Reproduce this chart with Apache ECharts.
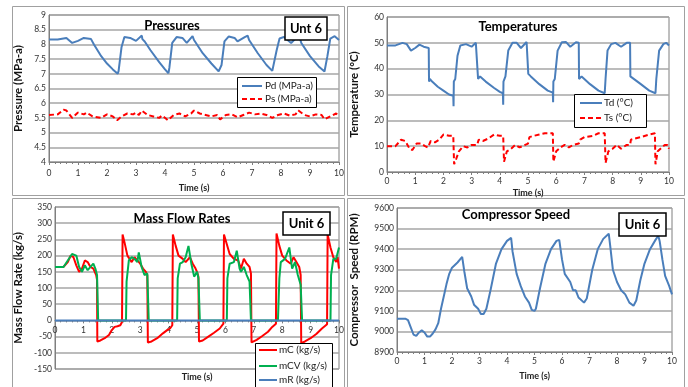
<!DOCTYPE html>
<html><head><meta charset="utf-8">
<script src="https://cdn.jsdelivr.net/npm/echarts@6/dist/echarts.min.js"></script>
<style>html,body{margin:0;padding:0;background:#fff}#c{width:688px;height:387px}</style>
</head><body><div id="c"></div>
<script>
// ---------- Data ----------
const xTicks = [0,1,2,3,4,5,6,7,8,9,10];

// Pressures
const pdTime = [0,0.3,0.6,0.8,1.0,1.2,1.45,1.48,1.55,1.8,2.0,2.2,2.37,2.4,2.5,2.6,2.8,3.0,3.2,3.22,3.3,3.5,3.8,4.0,4.12,4.15,4.25,4.4,4.6,4.75,4.95,5.0,5.3,5.6,5.85,5.9,5.95,6.05,6.2,6.4,6.5,6.75,6.85,6.9,7.2,7.5,7.7,7.75,7.85,7.95,8.1,8.35,8.55,8.65,8.7,9.0,9.3,9.5,9.55,9.6,9.7,9.85,10];
const pdVal  = [8.17,8.17,8.22,8.05,8.12,8.22,8.18,8.12,8.0,7.6,7.35,7.15,7.0,7.1,7.9,8.25,8.22,8.12,8.3,8.18,8.1,7.8,7.4,7.15,7.02,7.2,8.05,8.25,8.22,8.05,8.28,8.15,7.7,7.35,7.08,7.05,7.3,8.1,8.27,8.22,8.1,8.25,8.3,8.15,7.7,7.3,7.1,7.1,7.8,8.2,8.25,8.05,8.25,8.22,8.05,7.6,7.25,7.08,7.1,7.6,8.2,8.28,8.15];
const psTime = [0,0.3,0.5,0.6,0.8,1.0,1.2,1.3,1.5,1.8,2.0,2.2,2.35,2.5,2.7,2.9,3.0,3.1,3.2,3.4,3.6,3.8,3.9,4.1,4.3,4.5,4.7,4.9,5.0,5.2,5.4,5.6,5.8,5.9,6.1,6.3,6.5,6.7,6.9,7.1,7.3,7.5,7.7,7.9,8.1,8.3,8.5,8.6,8.8,9.0,9.2,9.4,9.5,9.7,9.9,10];
const psVal  = [5.6,5.62,5.78,5.75,5.5,5.68,5.62,5.68,5.55,5.5,5.62,5.55,5.42,5.55,5.65,5.62,5.68,5.6,5.75,5.6,5.55,5.5,5.58,5.42,5.6,5.65,5.55,5.65,5.75,5.65,5.6,5.55,5.6,5.45,5.6,5.62,5.52,5.6,5.68,5.62,5.65,5.6,5.5,5.6,5.65,5.58,5.62,5.75,5.6,5.55,5.62,5.6,5.45,5.55,5.65,5.55];

// Temperatures
const tdTime = [0,0.3,0.55,0.7,0.85,1.0,1.15,1.3,1.48,1.49,1.52,1.6,1.8,2.0,2.2,2.35,2.36,2.37,2.42,2.5,2.6,2.8,3.0,3.15,3.22,3.23,3.3,3.5,3.8,4.0,4.11,4.12,4.13,4.2,4.3,4.45,4.6,4.75,4.95,5.0,5.01,5.1,5.4,5.7,5.88,5.89,5.9,5.95,6.05,6.2,6.35,6.5,6.7,6.8,6.81,6.9,7.2,7.5,7.72,7.75,7.82,7.95,8.1,8.3,8.5,8.62,8.63,8.7,9.0,9.3,9.52,9.55,9.65,9.8,9.9,10];
const tdVal  = [49,49,50,49.5,47,48,49.3,48.5,48,35,36,35,33,31.5,30,29.5,25.5,35,36,45,49,49.5,48.5,50,50.2,36,37,35,32.5,31,30.5,26,35,37,47,50,50,48,50.3,50.3,38,37,34,31.5,30.7,27,35,36,47,50.2,50.3,48.5,50.2,50,36,37,34,31.5,30.5,36,47,49.5,50,48.5,50,50,37,37,34,31.5,30.5,36,47,49.5,50,49];
const tsTime = [0,0.3,0.5,0.65,0.8,0.9,1.05,1.2,1.35,1.45,1.55,1.7,1.85,2.0,2.2,2.35,2.38,2.45,2.55,2.7,2.85,3.0,3.2,3.25,3.4,3.6,3.8,4.0,4.12,4.15,4.25,4.4,4.55,4.7,4.9,5.0,5.05,5.2,5.4,5.6,5.88,5.9,6.0,6.15,6.3,6.45,6.6,6.8,6.85,7.0,7.3,7.5,7.72,7.75,7.85,8.0,8.15,8.3,8.5,8.62,8.65,8.8,9.0,9.3,9.5,9.52,9.6,9.75,9.85,9.95,10];
const tsVal  = [10,10,12.5,12,9,8.5,11,11,10,9.5,12,11.5,12.5,14.5,14,14,3,5,8,10,9.5,10.5,10.5,12.5,12,13,14.5,14,14,4,8,9,10.5,9.5,10.5,11,13.5,14,14.5,15,15,4,8,9.5,10.5,9.5,10.5,11,12.5,13.5,14,15,15,3.5,8,9,10.5,9,10.5,10.5,12.5,13,13.5,14.5,15,3,8,9.5,10.5,10.5,9];

// Mass flow rates
const mcTime = [0,0.3,0.45,0.55,0.65,0.75,0.85,0.95,1.05,1.15,1.25,1.35,1.45,1.48,1.49,1.6,1.75,1.9,2.0,2.1,2.2,2.3,2.36,2.38,2.45,2.55,2.6,2.7,2.8,2.9,3.0,3.1,3.2,3.25,3.27,3.4,3.6,3.8,3.95,4.05,4.13,4.15,4.25,4.35,4.5,4.6,4.75,4.85,4.95,5.0,5.05,5.07,5.2,5.4,5.6,5.8,5.93,5.95,6.05,6.15,6.3,6.45,6.55,6.65,6.75,6.85,6.9,6.92,7.1,7.3,7.5,7.65,7.78,7.8,7.9,8.0,8.15,8.3,8.4,8.5,8.6,8.65,8.67,8.8,9.0,9.2,9.4,9.58,9.6,9.7,9.8,9.9,9.95,10];
const mcVal  = [165,165,180,200,195,170,150,160,185,180,165,160,140,125,-65,-62,-55,-45,-30,-20,-18,-15,-5,265,240,200,205,180,195,185,175,160,150,140,-68,-65,-55,-40,-30,-25,-15,265,230,200,190,180,195,175,160,150,135,-65,-62,-50,-38,-25,-10,265,235,205,190,185,160,190,175,165,145,-68,-60,-48,-35,-20,-10,268,230,200,185,175,195,180,165,140,-70,-65,-55,-42,-25,-12,265,225,195,180,195,160];
const mcvTime = [0,0.3,0.45,0.6,0.75,0.85,0.95,1.05,1.15,1.25,1.35,1.42,1.48,1.5,1.52,2.5,2.52,2.6,2.7,2.8,2.9,2.95,3.05,3.15,3.25,3.3,3.32,3.35,4.3,4.32,4.4,4.5,4.6,4.7,4.8,4.9,5.0,5.05,5.1,6.05,6.07,6.15,6.3,6.4,6.5,6.55,6.65,6.75,6.85,6.9,7.85,7.9,7.95,8.1,8.25,8.35,8.45,8.55,8.65,8.7,9.7,9.72,9.8,9.9,10];
const mcvVal  = [165,165,185,205,200,165,150,170,155,165,175,160,140,145,0,0,120,185,195,190,180,210,165,140,145,0,-5,0,0,130,175,180,195,230,175,135,150,130,0,0,130,175,180,215,160,150,165,140,120,0,0,130,180,190,225,160,180,140,110,0,0,140,190,190,225];
const mrTime = [0,10];
const mrVal  = [0,0];

// Compressor speed
const spTime = [0,0.3,0.4,0.5,0.6,0.7,0.8,0.9,1.0,1.1,1.2,1.3,1.4,1.5,1.6,1.7,1.8,1.9,2.0,2.2,2.37,2.45,2.55,2.7,2.8,2.95,3.05,3.15,3.25,3.4,3.6,3.8,4.0,4.15,4.2,4.35,4.5,4.65,4.8,4.9,5.0,5.05,5.2,5.4,5.6,5.8,5.9,6.0,6.1,6.3,6.4,6.5,6.6,6.8,6.9,7.1,7.3,7.5,7.7,7.75,7.85,8.0,8.15,8.3,8.45,8.6,8.7,8.85,9.0,9.2,9.4,9.5,9.55,9.65,9.75,9.9,10];
const spVal  = [9062,9062,9055,9020,8985,8978,8995,9005,8995,8975,8975,8990,9010,9040,9110,9170,9230,9280,9310,9335,9362,9290,9210,9170,9130,9110,9085,9085,9110,9200,9330,9400,9440,9455,9390,9280,9220,9170,9140,9105,9100,9110,9210,9330,9400,9440,9445,9350,9280,9240,9200,9200,9165,9140,9160,9300,9400,9450,9475,9420,9300,9240,9200,9180,9140,9125,9150,9250,9330,9400,9445,9465,9440,9350,9270,9220,9180];

// ---------- Chart ----------
const zip = (t, v) => t.map((x, i) => [x, v[i]]);
const FONT = 'Lato';
const BLUE = '#4a7ebb', RED = '#ff0000', GREEN = '#00b050';
const grids = [
  {left: 49, top: 15, width: 290, height: 147},
  {left: 387, top: 17, width: 282, height: 155},
  {left: 55, top: 207, width: 284, height: 162},
  {left: 397, top: 208, width: 275, height: 144}
].map(g => Object.assign({show: true, borderColor: '#7f7f7f', borderWidth: 1, backgroundColor: '#fff'}, g));

function xAx(gi, nameGap, margin, withName, offset) {
  return {
    type: 'value', gridIndex: gi, min: 0, max: 10, interval: 1, offset: offset || 0,
    name: withName ? 'Time (s)' : '', nameLocation: 'middle', nameGap: nameGap,
    nameTextStyle: {fontFamily: FONT, fontWeight: 'bold', fontSize: 9, color: '#222'},
    axisLine: {onZero: false, lineStyle: {color: '#7f7f7f'}},
    axisTick: {show: true, length: 3, lineStyle: {color: '#7f7f7f'}},
    minorTick: {show: true, splitNumber: 5, length: 2, lineStyle: {color: '#7f7f7f'}},
    axisLabel: {fontFamily: FONT, fontSize: 8.5, color: '#333', margin: margin},
    splitLine: {show: false}
  };
}
function yAx(gi, min, max, interval, name, nameGap) {
  return {
    type: 'value', gridIndex: gi, min: min, max: max, interval: interval,
    name: name, nameLocation: 'middle', nameGap: nameGap, nameRotate: 90,
    nameTextStyle: {fontFamily: FONT, fontWeight: 'bold', fontSize: 11.5, color: '#111'},
    axisLine: {show: true, onZero: false, lineStyle: {color: '#7f7f7f'}},
    axisTick: {show: false},
    axisLabel: {fontFamily: FONT, fontSize: 8.5, color: '#333', margin: 3, formatter: v => String(v)},
    splitLine: {show: true, lineStyle: {color: '#a6a6a6', width: 1.5}}
  };
}
function line(name, gi, data, color, dashed, z) {
  return {
    name: name, type: 'line', xAxisIndex: gi, yAxisIndex: gi, data: data,
    showSymbol: false, symbol: 'none', smooth: false, z: z || 2,
    lineStyle: {color: color, width: 2, type: dashed ? [5, 3] : 'solid'},
    itemStyle: {color: color}, animation: false
  };
}
const ZT = 100;
// manual legend boxes
function legendBox(x, y, w, h, items, lineX, lineW, textX, rowYs) {
  const ch = [{type: 'rect', z: ZT, shape: {x: x, y: y, width: w, height: h}, style: {fill: '#fff', stroke: '#000', lineWidth: 1}}];
  items.forEach((it, i) => {
    const ls = {stroke: it[1], lineWidth: 2};
    if (it[2]) ls.lineDash = [5, 3];
    ch.push({type: 'line', z: ZT + 1, shape: {x1: lineX, y1: rowYs[i], x2: lineX + lineW, y2: rowYs[i]}, style: ls});
    ch.push({type: 'text', z: ZT + 1, style: {x: textX, y: rowYs[i], text: it[0], align: 'left', verticalAlign: 'middle', font: '10px Lato', fill: '#222'}});
  });
  return ch;
}
function unitBox(x, y, w, h, txt) {
  return [
    {type: 'rect', z: ZT, shape: {x: x, y: y, width: w, height: h}, style: {fill: '#fff', stroke: '#000', lineWidth: 1.5}},
    {type: 'text', z: ZT + 1, style: {x: x + w / 2, y: y + h / 2, text: txt, align: 'center', verticalAlign: 'middle', font: 'bold 13px Lato', fill: '#000'}}
  ];
}
function title(x, y, txt) {
  return {type: 'text', z: ZT, style: {x: x, y: y, text: txt, align: 'center', verticalAlign: 'middle', font: 'bold 13px Lato', fill: '#000'}};
}
function frame(x, y, w, h) {
  return {type: 'rect', z: -10, shape: {x: x, y: y, width: w, height: h}, style: {fill: null, stroke: '#a0a0a0', lineWidth: 1}};
}

const option = {
  animation: false,
  backgroundColor: '#fff',
  grid: grids,
  xAxis: [xAx(0, 22, 7, true), xAx(1, 17, 5, true), xAx(2, 0, 5, false, -48.6), xAx(3, 20, 5, true)],
  yAxis: [
    yAx(0, 4, 9, 0.5, 'Pressure (MPa-a)', 25),
    yAx(1, 0, 60, 10, 'Temperature (°C)', 27),
    yAx(2, -150, 350, 50, 'Mass Flow Rate (kg/s)', 31),
    yAx(3, 8900, 9600, 100, 'Compressor  Speed (RPM)', 37)
  ],
  series: [
    line('Pd (MPa-a)', 0, zip(pdTime, pdVal), BLUE, false),
    line('Ps (MPa-a)', 0, zip(psTime, psVal), RED, true),
    line('Td (°C)', 1, zip(tdTime, tdVal), BLUE, false),
    line('Ts (°C)', 1, zip(tsTime, tsVal), RED, true),
    line('mC (kg/s)', 2, zip(mcTime, mcVal), RED, false, 2),
    line('mCV (kg/s)', 2, zip(mcvTime, mcvVal), GREEN, false, 3),
    line('mR (kg/s)', 2, zip(mrTime, mrVal), BLUE, false, 4),
    line('Speed', 3, zip(spTime, spVal), BLUE, false)
  ],
  graphic: [].concat(
    [frame(12.5, 6.5, 332, 189), frame(347.5, 6.5, 337, 189), frame(12.5, 198.5, 332, 200), frame(347.5, 198.5, 337, 200)],
    [title(172, 26, 'Pressures'), title(518, 27, 'Temperatures'), title(182, 219, 'Mass Flow Rates'), title(516, 215, 'Compressor Speed')],
    unitBox(285, 17, 42, 23, 'Unt 6'),
    unitBox(283, 212, 47, 23, 'Unit 6'),
    unitBox(619, 213, 47, 23, 'Unit 6'),
    legendBox(237.5, 77.5, 79, 30, [['Pd (MPa-a)', BLUE, false], ['Ps (MPa-a)', RED, true]], 242, 20, 265, [86, 99]),
    legendBox(574.5, 94.5, 72, 33, [['Td (°C)', BLUE, false], ['Ts (°C)', RED, true]], 580, 22, 604, [103, 118]),
    legendBox(255.5, 343.5, 77, 50, [['mC (kg/s)', RED, false], ['mCV (kg/s)', GREEN, false], ['mR (kg/s)', BLUE, false]], 259, 18, 279, [350, 366, 380]),
    [{type: 'text', z: ZT, style: {x: 197, y: 377, text: 'Time (s)', align: 'center', verticalAlign: 'middle', font: 'bold 9px Lato', fill: '#222'}}]
  )
};
const chart = echarts.init(document.getElementById('c'), null, {renderer: 'canvas'});
chart.setOption(option);
</script></body></html>
